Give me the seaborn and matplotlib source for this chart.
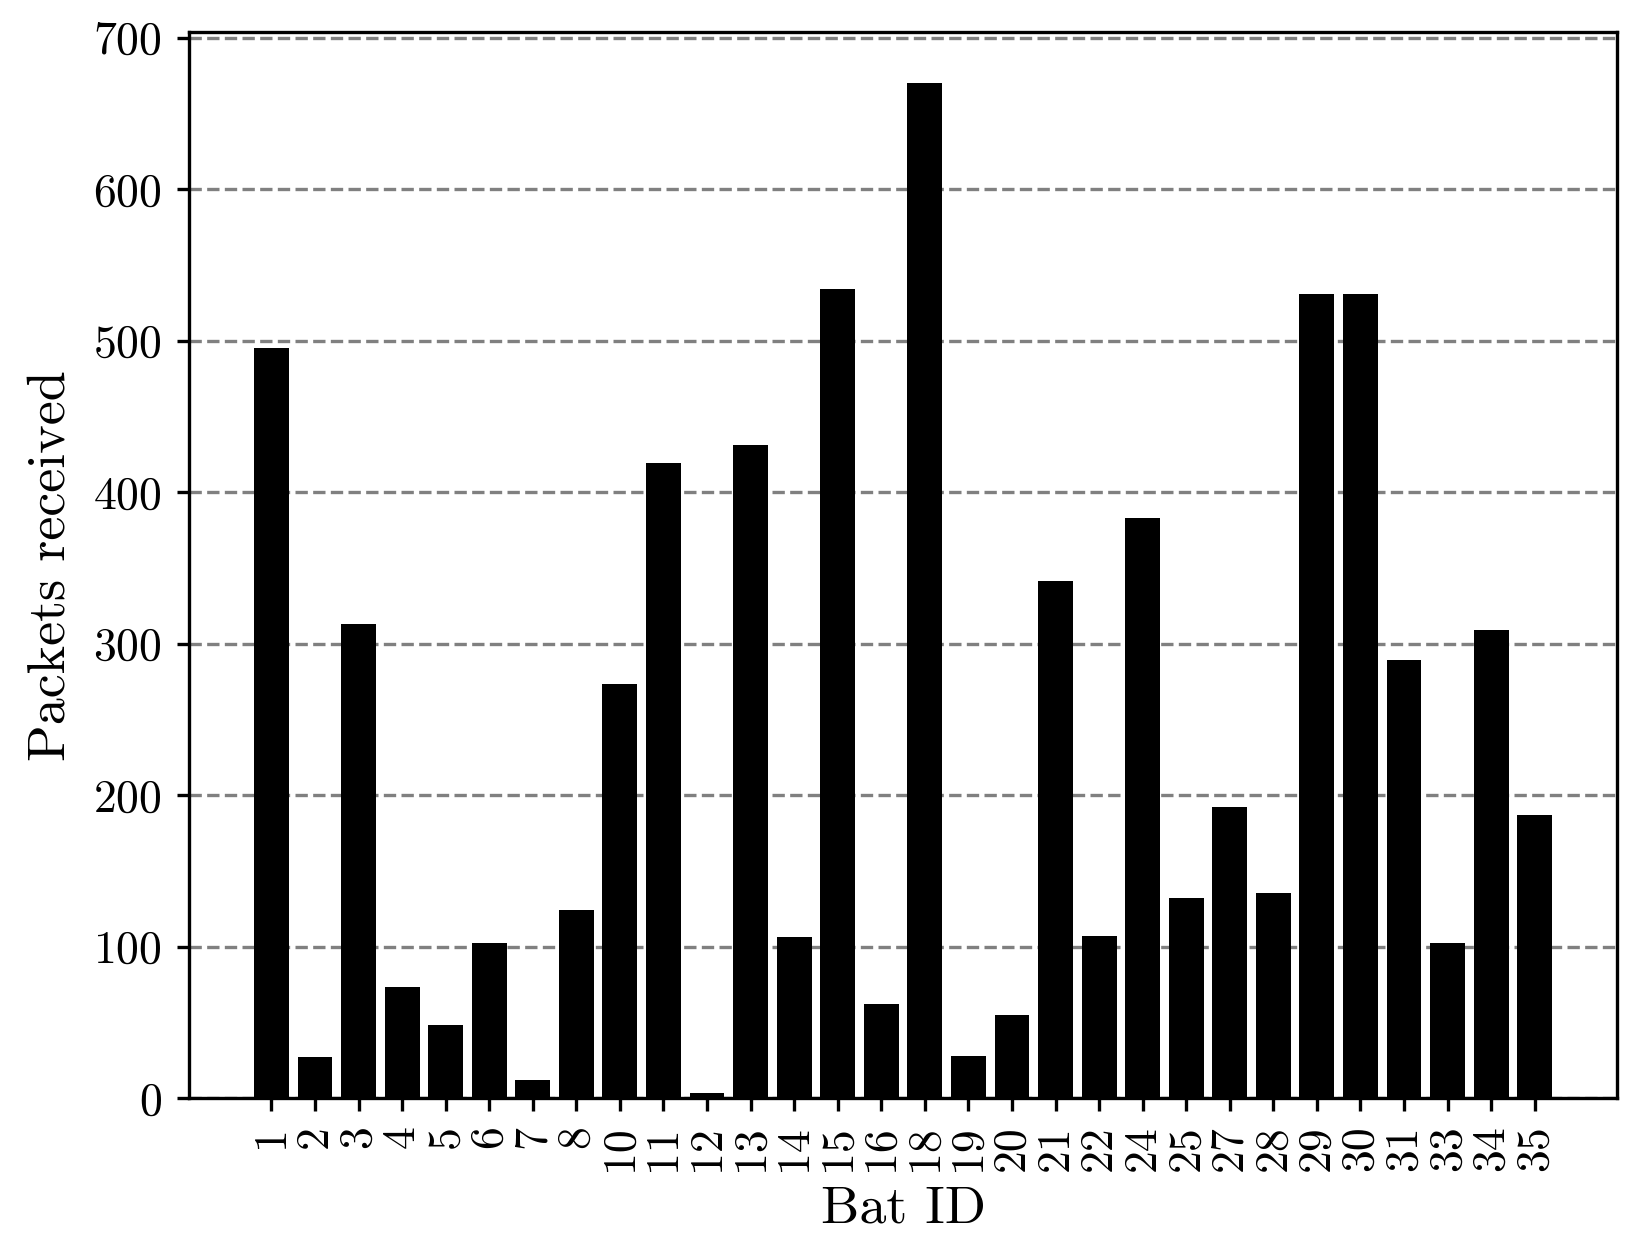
import matplotlib
matplotlib.use("Agg")
import matplotlib.pyplot as plt
import seaborn as sns
import pandas as pd

bat_ids = ["1", "2", "3", "4", "5", "6", "7", "8", "10", "11", "12", "13", "14", "15", "16",
           "18", "19", "20", "21", "22", "24", "25", "27", "28", "29", "30", "31", "33", "34", "35"]
packets = [495, 27, 313, 73, 48, 102, 12, 124, 273, 419, 3, 431, 106, 534, 62,
           670, 28, 55, 341, 107, 383, 132, 192, 135, 531, 531, 289, 102, 309, 187]

sns.set_theme(style="ticks")
plt.rcParams["font.family"] = "serif"
plt.rcParams["font.serif"] = ["cmr10"]
plt.rcParams["mathtext.fontset"] = "cm"
plt.rcParams["axes.unicode_minus"] = False
plt.rcParams["axes.formatter.use_mathtext"] = True
plt.rcParams["text.color"] = "black"
plt.rcParams["axes.labelcolor"] = "black"
plt.rcParams["xtick.color"] = "black"
plt.rcParams["ytick.color"] = "black"

df = pd.DataFrame({"Bat ID": bat_ids, "Packets received": packets})

fig = plt.figure(figsize=(1647 / 300, 1251 / 300), dpi=300)
ax = fig.add_axes([0.1148, 0.1223, 0.9818 - 0.1148, 0.9742 - 0.1223])

sns.barplot(data=df, x="Bat ID", y="Packets received", color="black",
            width=0.8, saturation=1, ax=ax, zorder=3)
for p in ax.patches:
    p.set_edgecolor("none")

n = len(bat_ids)
span = (n - 1) + 0.8
ax.set_xlim(-0.4 - 0.05 * span, n - 1 + 0.4 + 0.05 * span)
ax.set_ylim(0, max(packets) * 1.05)
ax.set_yticks(range(0, 701, 100))

ax.yaxis.grid(True, linestyle="--", color="gray", linewidth=0.8, zorder=0)
ax.set_axisbelow(True)
ax.xaxis.grid(False)

for s in ax.spines.values():
    s.set_visible(True)
    s.set_color("black")
    s.set_linewidth(0.8)

ax.tick_params(axis="x", labelrotation=90, labelsize=11, length=3, width=0.8,
               color="black", labelcolor="black", bottom=True)
ax.tick_params(axis="y", labelsize=11, length=3, width=0.8,
               color="black", labelcolor="black", left=True)
ax.set_xlabel("Bat ID", fontsize=13, labelpad=3.5, color="black")
ax.set_ylabel("Packets received", fontsize=13, labelpad=4.5, color="black")

fig.savefig("out.png", dpi=300)
